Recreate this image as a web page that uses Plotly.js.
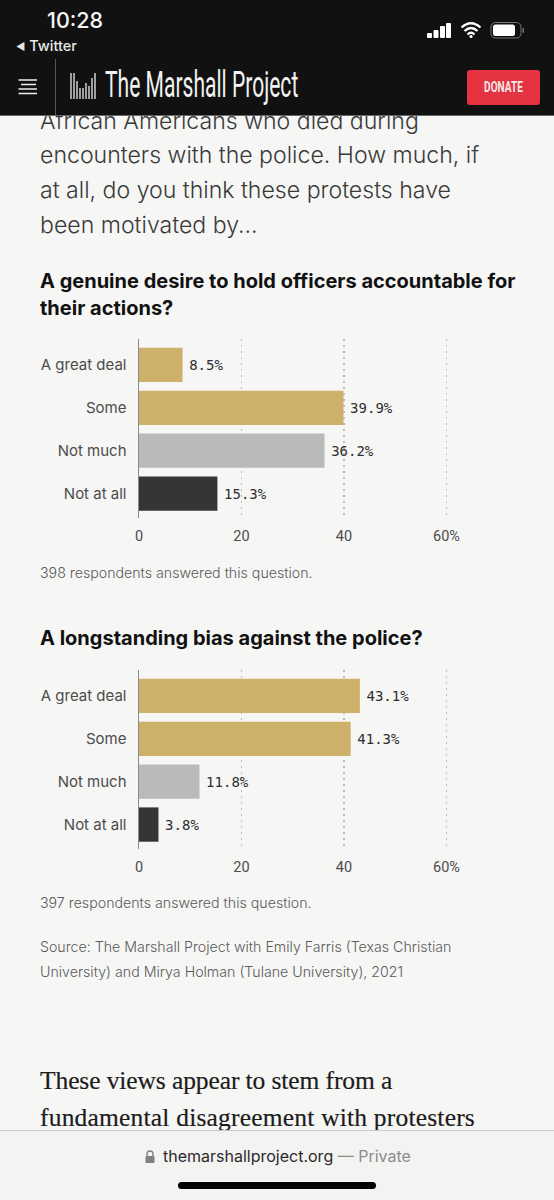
<!DOCTYPE html>
<html><head><meta charset="utf-8">
<script src="https://cdn.plot.ly/plotly-3.0.1.min.js"></script>
<style>
html,body{margin:0;padding:0;background:#f6f6f5;overflow:hidden}
#wrap{position:relative;width:554px;height:1200px;overflow:hidden;background:#f6f6f5}
#chart{position:absolute;left:0;top:0;width:554px;height:1200px}
.t{position:absolute;white-space:nowrap}
.intro{font-family:Inter,sans-serif;font-weight:300;font-size:23.1px;color:#3a3a3a;left:40px;line-height:35px}
.ser{font-family:"Liberation Serif",serif;font-size:25.5px;color:#1c1c1c;left:40px;-webkit-text-stroke:.2px #1c1c1c}
#head{position:absolute;left:0;top:0;width:554px;height:115px;background:#111;border-bottom:1px solid #666}
#foot{position:absolute;left:0;top:1130px;width:554px;height:70px;background:#f3f3f2;border-top:1px solid #c8c8c8}
</style></head><body>
<div id="wrap">
<div class="t intro" style="top:104px">African Americans who died during</div>
<div class="t intro" style="top:138px">encounters with the police. How much, if</div>
<div class="t intro" style="top:173px">at all, do you think these protests have</div>
<div class="t intro" style="top:208px">been motivated by...</div>
<div id="chart"></div>
<div class="t ser" style="top:1066px;letter-spacing:-.1px">These views appear to stem from a</div>
<div class="t ser" style="top:1103px;letter-spacing:.2px">fundamental disagreement with protesters</div>
<div id="head">
  <div class="t" style="left:47px;top:7px;font:500 21.5px Inter,sans-serif;color:#f5f5f5">10:28</div>
  <div class="t" style="left:16px;top:37px;font:500 14.5px Inter,sans-serif;color:#e8e8e8"><span style="font-size:10px;vertical-align:1px">◀</span> Twitter</div>
  <svg class="t" style="left:420px;top:16px" width="110" height="26">
    <rect x="7" y="17" width="5" height="5" rx="1" fill="#fff"/><rect x="13.5" y="14" width="5" height="8" rx="1" fill="#fff"/><rect x="20" y="10" width="5" height="12" rx="1" fill="#fff"/><rect x="26" y="7" width="5" height="15" rx="1" fill="#fff"/>
    <path d="M41.5 11.5 Q51 3 60.5 11.5 M44.5 15 Q51 9 57.5 15 M47.5 18.5 Q51 15 54.5 18.5" stroke="#fff" stroke-width="2.2" fill="none"/><circle cx="51" cy="20.5" r="1.6" fill="#fff"/>
    <rect x="71" y="6.5" width="30" height="15.5" rx="4.5" fill="none" stroke="#777" stroke-width="1"/><rect x="73" y="8.5" width="22" height="11.5" rx="2.5" fill="#fff"/><rect x="102.5" y="12" width="1.5" height="5" rx=".7" fill="#777"/>
  </svg>
  <svg class="t" style="left:17px;top:77px" width="22" height="19"><path d="M1.5 3H20M4 7.5H19M1.5 12H20M1.5 16.5H20" stroke="#eee" stroke-width="1.4"/></svg>
  <div class="t" style="left:55px;top:59px;width:1px;height:56px;background:#555"></div>
  <svg class="t" style="left:69px;top:71px" width="28" height="30"><path d="M2 2V28M5 2V28M8 10V28M11 17V28M14 17V28M17 12V28M20 15V28M23 7V28M26 2V28" stroke="#fff" stroke-width="1.2"/></svg>
  <div class="t" style="left:105px;top:64px;font:400 36px Roboto,sans-serif;color:#f2f2f2;transform-origin:0 0;transform:scaleX(.585)">The Marshall Project</div>
  <div class="t" style="left:467px;top:70px;width:73px;height:35px;border-radius:3px;background:#e63341"><div style="color:#f5e9ea;font:700 14px/34px Roboto,sans-serif;text-align:center;transform:scaleX(.72)">DONATE</div></div>
</div>
<div id="foot">
  <svg class="t" style="left:144px;top:18px" width="12" height="15"><path d="M3 7V5a3 3 0 0 1 6 0v2" stroke="#808080" stroke-width="1.4" fill="none"/><rect x="1.5" y="7" width="9" height="7" rx="1" fill="#808080"/></svg>
  <div class="t" style="left:163px;top:15px;font:400 16px Inter,sans-serif;color:#2a2a2a">themarshallproject.org <span style="color:#8c8c8c">— Private</span></div>
  <div class="t" style="left:178px;top:51px;width:198px;height:7px;border-radius:4px;background:#000;"></div>
</div>
</div>
<script>
var categories = ["A great deal", "Some", "Not much", "Not at all"];
var genuineDesire = [8.5, 39.9, 36.2, 15.3];
var longstandingBias = [43.1, 41.3, 11.8, 3.8];
var barColors = ["#cdb06a", "#cdb06a", "#bababa", "#353535"];
var tickVals = [0, 20, 40, 60];
var tickLabels = ["0", "20", "40", "60%"];
var question1 = ["A genuine desire to hold officers accountable for", "their actions?"];
var question2 = ["A longstanding bias against the police?"];
var respondents1 = "398 respondents answered this question.";
var respondents2 = "397 respondents answered this question.";
var sourceLines = ["Source: The Marshall Project with Emily Farris (Texas Christian", "University) and Mirya Holman (Tulane University), 2021"];

var W = 554, H = 1200;
function bar(vals, xa, ya) {
  return {type:"bar", orientation:"h", x:vals, y:categories, xaxis:xa, yaxis:ya,
    marker:{color:barColors}, width:0.8, cliponaxis:false,
    text:vals.map(function(v){return '<span style="font-size:6px">\u00a0</span>'+v.toFixed(1)+"%";}), textposition:"outside",
    textfont:{family:"DejaVu Sans Mono, monospace", size:14, color:"#2e2e2e"}, hoverinfo:"skip"};
}
function xax(anchor){
  return {anchor:anchor, domain:[139/W, (139+61*5.125)/W], range:[0,61], tickvals:tickVals, ticktext:tickLabels,
    showgrid:true, griddash:"2px,4px", gridcolor:"#bdbdbd", gridwidth:1.6, zeroline:false, showline:false,
    ticks:"", ticklabelstandoff:7, tickfont:{family:"Roboto, sans-serif", size:14.5, color:"#4c4c4c"}};
}
function yax(anchor, top, bottom){
  return {anchor:anchor, domain:[1-bottom/H, 1-top/H], type:"category", categoryorder:"array", categoryarray:categories,
    range:[3.57,-0.605], showgrid:false, zeroline:false, showline:true, linecolor:"#8a8a8a", linewidth:1.5,
    ticks:"", ticklabelstandoff:8, tickfont:{family:"Inter, sans-serif", size:15, color:"#4c4c4c"}};
}
function note(text, y, opt){
  opt = opt || {};
  return {xref:"paper", yref:"paper", x:38/W, y:1-y/H, xanchor:"left", yanchor:"middle", showarrow:false, text:text,
    font:{family:"Inter, sans-serif", size:opt.size||14.2, color:opt.color||"#5a5a5a", weight:opt.weight||300}};
}
var head = {size:20, color:"#111", weight:700};
var annotations = [
  note(question1[0], 281, head), note(question1[1], 308, head),
  note(respondents1, 572),
  note(question2[0], 638, head),
  note(respondents2, 902),
  note(sourceLines[0], 946), note(sourceLines[1], 971)
];
Plotly.newPlot("chart", [bar(genuineDesire,"x","y"), bar(longstandingBias,"x2","y2")], {
  width:W, height:H, margin:{l:0,r:0,t:0,b:0}, showlegend:false, autosize:false,
  paper_bgcolor:"rgba(0,0,0,0)", plot_bgcolor:"rgba(0,0,0,0)", bargap:0.2,
  xaxis:xax("y"), yaxis:yax("x",339,518),
  xaxis2:xax("y2"), yaxis2:yax("x2",670,849),
  annotations:annotations
}, {displayModeBar:false, staticPlot:true});
</script>
</body></html>
